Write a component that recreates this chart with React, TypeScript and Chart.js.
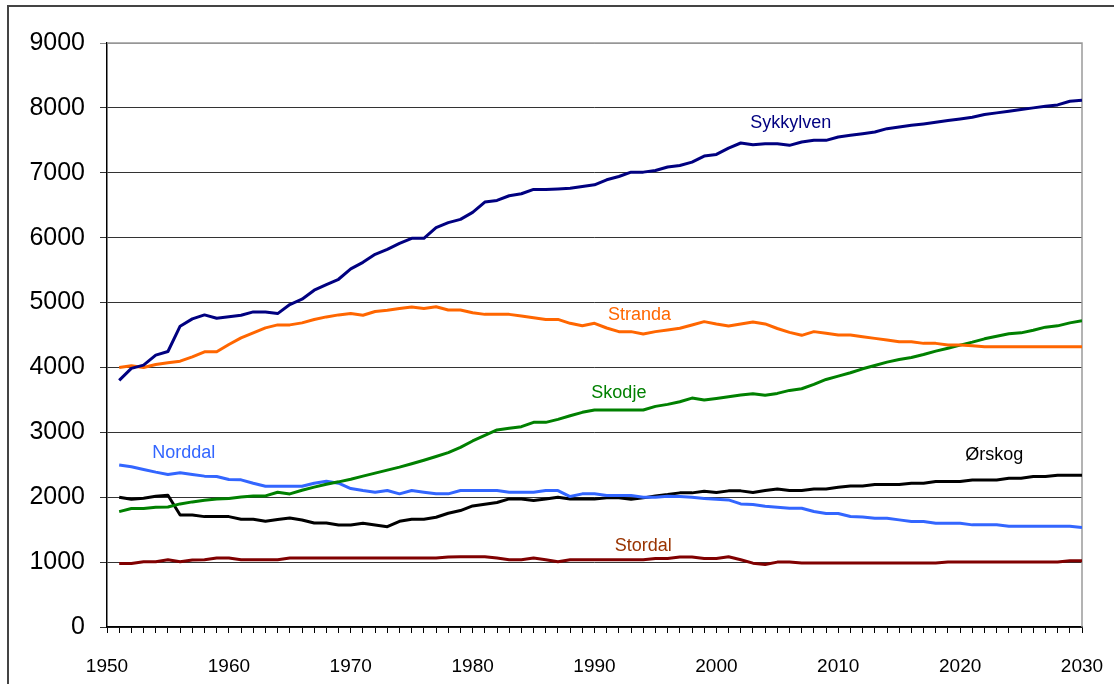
import React, { useEffect, useRef } from "react";
import { Chart, registerables } from "chart.js";

Chart.register(...registerables);

const years: number[] = Array.from({ length: 80 }, (_, i) => 1951 + i);

const sykkylven = [
  3800, 3985, 4036, 4190, 4246, 4636, 4749, 4810, 4759, 4780,
  4805, 4856, 4856, 4830, 4969, 5051, 5190, 5277, 5359, 5518,
  5620, 5744, 5820, 5913, 5990, 5990, 6154, 6231, 6282, 6390,
  6549, 6574, 6646, 6677, 6744, 6744, 6750, 6760, 6790, 6814,
  6892, 6943, 7010, 7010, 7036, 7088, 7113, 7165, 7258, 7283,
  7381, 7459, 7433, 7448, 7448, 7423, 7474, 7500, 7500, 7551,
  7577, 7603, 7629, 7680, 7706, 7732, 7753, 7778, 7804, 7830,
  7856, 7897, 7923, 7948, 7974, 8000, 8026, 8046, 8103, 8119,
];

const stranda = [
  4000, 4026, 4000, 4046, 4072, 4097, 4164, 4241, 4241, 4354,
  4456, 4533, 4610, 4656, 4656, 4687, 4738, 4779, 4810, 4831,
  4805, 4862, 4882, 4908, 4933, 4910, 4935, 4885, 4885, 4843,
  4818, 4818, 4818, 4792, 4766, 4740, 4740, 4680, 4644, 4680,
  4608, 4552, 4552, 4515, 4552, 4577, 4603, 4655, 4706, 4670,
  4639, 4670, 4701, 4670, 4600, 4541, 4495, 4552, 4526, 4500,
  4500, 4474, 4448, 4423, 4397, 4397, 4371, 4371, 4345, 4345,
  4335, 4320, 4320, 4320, 4320, 4320, 4320, 4320, 4320, 4320,
];

const skodje = [
  1778, 1825, 1825, 1845, 1850, 1897, 1928, 1954, 1974, 1979,
  2005, 2020, 2020, 2077, 2051, 2108, 2155, 2201, 2237, 2278,
  2325, 2371, 2418, 2464, 2515, 2570, 2628, 2687, 2769, 2867,
  2954, 3036, 3062, 3087, 3154, 3154, 3200, 3256, 3308, 3344,
  3344, 3344, 3344, 3344, 3400, 3431, 3472, 3528, 3497, 3523,
  3549, 3574, 3595, 3572, 3600, 3646, 3672, 3738, 3815, 3867,
  3918, 3979, 4031, 4082, 4123, 4154, 4200, 4251, 4297, 4344,
  4390, 4441, 4482, 4518, 4533, 4574, 4621, 4641, 4687, 4718,
];

const norddal = [
  2495, 2469, 2428, 2387, 2351, 2376, 2351, 2325, 2320, 2273,
  2268, 2216, 2170, 2170, 2170, 2170, 2216, 2247, 2216, 2134,
  2103, 2077, 2103, 2052, 2103, 2077, 2052, 2052, 2103, 2103,
  2103, 2103, 2077, 2077, 2077, 2103, 2103, 2010, 2052, 2052,
  2026, 2026, 2026, 2000, 2000, 2015, 2010, 2000, 1979, 1969,
  1959, 1897, 1887, 1860, 1846, 1831, 1831, 1779, 1749, 1749,
  1703, 1697, 1677, 1677, 1651, 1626, 1626, 1600, 1600, 1600,
  1574, 1574, 1574, 1554, 1554, 1554, 1554, 1554, 1554, 1533,
];

const orskog = [
  2000, 1969, 1985, 2015, 2031, 1727, 1727, 1701, 1701, 1701,
  1660, 1660, 1629, 1655, 1680, 1650, 1603, 1603, 1572, 1572,
  1598, 1572, 1546, 1629, 1660, 1660, 1691, 1753, 1794, 1866,
  1892, 1918, 1974, 1974, 1948, 1974, 2000, 1974, 1974, 1974,
  1990, 1990, 1969, 1990, 2020, 2041, 2067, 2067, 2093, 2072,
  2098, 2098, 2072, 2103, 2128, 2103, 2103, 2128, 2128, 2154,
  2174, 2174, 2195, 2195, 2195, 2215, 2215, 2241, 2241, 2241,
  2267, 2267, 2267, 2292, 2292, 2318, 2318, 2338, 2338, 2338,
];

const stordal = [
  979, 979, 1005, 1005, 1036, 1005, 1031, 1036, 1062, 1062,
  1036, 1036, 1036, 1036, 1062, 1062, 1062, 1062, 1062, 1062,
  1062, 1062, 1062, 1062, 1062, 1062, 1062, 1078, 1083, 1083,
  1083, 1062, 1036, 1036, 1062, 1036, 1005, 1036, 1036, 1036,
  1036, 1036, 1036, 1036, 1057, 1057, 1078, 1078, 1057, 1057,
  1083, 1036, 984, 962, 1000, 1000, 985, 985, 985, 985,
  985, 985, 985, 985, 985, 985, 985, 985, 1000, 1000,
  1000, 1000, 1000, 1000, 1000, 1000, 1000, 1000, 1020, 1020,
];

const seriesNames = ["Sykkylven", "Stranda", "Skodje", "Norddal", "Ørskog", "Stordal"];
const seriesValues = [sykkylven, stranda, skodje, norddal, orskog, stordal];
const lineColors = ["#000080", "#FF6600", "#008000", "#3366FF", "#000000", "#800000"];
const textColors = ["#000080", "#FF6600", "#008000", "#3366FF", "#000000", "#993300"];
// label anchor in data units (year, value)
const labelYears = [2006.1, 1993.7, 1992.0, 1956.3, 2022.8, 1994.0];
const labelValues = [7766, 4807, 3606, 2681, 2650, 1248];

const FONT = '"Liberation Sans", Arial, sans-serif';

export default function App() {
  const ref = useRef<HTMLCanvasElement | null>(null);

  useEffect(() => {
    if (!ref.current) return;

    const labelPlugin = {
      id: "seriesLabels",
      afterDatasetsDraw(chart: any) {
        const { ctx, scales } = chart;
        ctx.save();
        ctx.font = `18px ${FONT}`;
        ctx.textAlign = "center";
        ctx.textBaseline = "middle";
        seriesNames.forEach((name, i) => {
          ctx.fillStyle = textColors[i];
          ctx.fillText(
            name,
            scales.x.getPixelForValue(labelYears[i]),
            scales.y.getPixelForValue(labelValues[i])
          );
        });
        ctx.restore();
      },
    };

    const framePlugin = {
      id: "plotFrame",
      beforeDatasetsDraw(chart: any) {
        const { ctx, chartArea } = chart;
        ctx.save();
        ctx.strokeStyle = "#9a9a9a";
        ctx.lineWidth = 1.5;
        ctx.beginPath();
        ctx.moveTo(chartArea.left, chartArea.top);
        ctx.lineTo(chartArea.right, chartArea.top);
        ctx.lineTo(chartArea.right, chartArea.bottom);
        ctx.stroke();
        ctx.restore();
      },
    };

    const chart = new Chart(ref.current, {
      type: "line",
      data: {
        datasets: seriesNames.map((name, i) => ({
          label: name,
          data: years.map((yr, j) => ({ x: yr, y: seriesValues[i][j] })),
          borderColor: lineColors[i],
          backgroundColor: lineColors[i],
          borderWidth: 3,
          pointRadius: 0,
          tension: 0,
          fill: false,
          borderJoinStyle: "round" as const,
        })),
      },
      options: {
        animation: false,
        responsive: false,
        devicePixelRatio: 1,
        layout: { padding: { top: 43, right: 32, left: 0, bottom: 0 } },
        plugins: {
          legend: { display: false },
          tooltip: { enabled: false },
          title: { display: false },
        },
        scales: {
          x: {
            type: "linear",
            min: 1950,
            max: 2030,
            afterFit: (scale: any) => {
              scale.height = 57;
              scale.paddingLeft = 0;
              scale.paddingRight = 0;
            },
            ticks: {
              stepSize: 1,
              autoSkip: false,
              maxRotation: 0,
              minRotation: 0,
              padding: 22,
              color: "#000",
              font: { family: FONT, size: 19 },
              callback: (v: any) => (Number(v) % 10 === 0 ? String(v) : ""),
            },
            grid: {
              drawOnChartArea: false,
              drawTicks: true,
              tickLength: 6,
              color: "#000",
              lineWidth: 1,
            },
            border: { display: true, color: "#000", width: 1.5 },
          },
          y: {
            type: "linear",
            min: 0,
            max: 9000,
            afterFit: (scale: any) => {
              scale.width = 107;
              scale.paddingTop = 0;
              scale.paddingBottom = 0;
            },
            ticks: {
              stepSize: 1000,
              padding: 15,
              color: "#000",
              font: { family: FONT, size: 25 },
              callback: (v: any) => String(v),
            },
            grid: {
              color: (c: any) => (c.tick && c.tick.value === 9000 ? "#8a8a8a" : "#333333"),
              lineWidth: 1,
              tickLength: 7,
            },
            border: { display: true, color: "#000", width: 1.5 },
          },
        },
      },
      plugins: [framePlugin, labelPlugin],
    });

    return () => chart.destroy();
  }, []);

  return (
    <div
      style={{
        position: "fixed",
        left: 0,
        top: 0,
        width: 1114,
        height: 684,
        background: "#fff",
        overflow: "hidden",
      }}
    >
      <div
        style={{
          position: "absolute",
          left: 7,
          top: 5,
          width: 1200,
          height: 800,
          borderTop: "2px solid #444",
          borderLeft: "2px solid #444",
        }}
      />
      <canvas
        ref={ref}
        width={1114}
        height={684}
        style={{ position: "absolute", left: 0, top: 0, width: 1114, height: 684 }}
      />
    </div>
  );
}
